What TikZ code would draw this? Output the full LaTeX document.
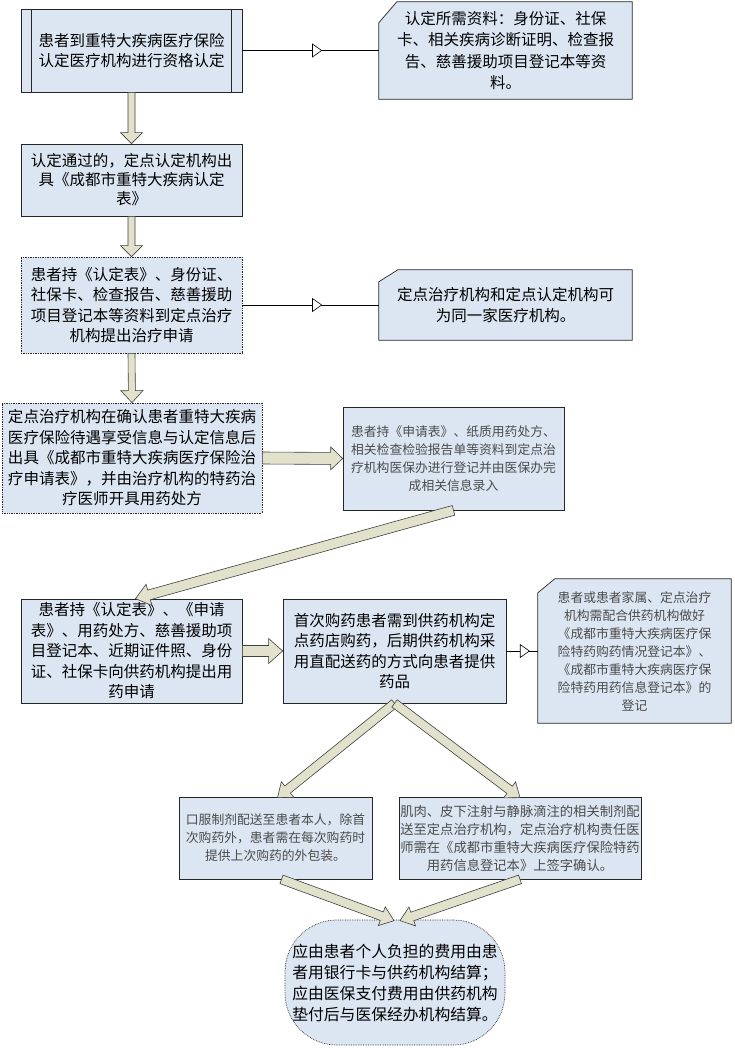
\documentclass[tikz,border=0pt]{standalone}
\usepackage{fontspec}
\newfontfamily\cjk{Noto Sans CJK SC}
\usetikzlibrary{calc,arrows.meta,decorations.markings,backgrounds}

\definecolor{boxfill}{RGB}{220,230,243}
\definecolor{arrfill}{RGB}{226,226,204}
\definecolor{smalltext}{RGB}{75,75,75}

\tikzset{
  box/.style={draw=black!85, line width=0.7pt, fill=boxfill, inner sep=0pt, align=center,
    font=\cjk\fontsize{15.5}{20.5}\selectfont},
  smallbox/.style={box, text=smalltext, font=\cjk\fontsize{12.8}{18}\selectfont},
  notetext/.style={inner sep=0pt, align=center, font=\cjk\fontsize{15.5}{21.5}\selectfont},
  smallnote/.style={notetext, text=smalltext, font=\cjk\fontsize{12.8}{18}\selectfont},
  noteshape/.style={draw=black!85, line width=0.7pt, fill=boxfill},
  dotb/.style={densely dotted},
  barrow/.style={draw=black!75, line width=0.6pt, fill=arrfill, line join=miter},
  thinconn/.style={draw=black, line width=0.6pt},
  tri/.style={postaction={decorate}, decoration={markings,
      mark=at position #1 with {\arrow{Triangle[length=10pt,width=14pt,fill=white]}}}},
}

% block arrow: start, tip, shaft half-width, head half-width, head length
\newcommand{\blockarr}[5]{%
  \coordinate (bac) at ($(#2)!#5!(#1)$);
  \draw[barrow] ($(#1)!#3!90:(#2)$) -- ($(bac)!#3!90:(#2)$) -- ($(bac)!#4!90:(#2)$) -- (#2)
    -- ($(bac)!#4!-90:(#2)$) -- ($(bac)!#3!-90:(#2)$) -- ($(#1)!#3!-90:(#2)$) -- cycle;}

\begin{document}
\begin{tikzpicture}[x=1pt,y=-1pt]
\useasboundingbox (0,0) rectangle (734,1048);

% main column
\node[box, minimum width=221pt, minimum height=83pt] (b1) at (131.5,50.5)
  {患者到重特大疾病医疗保险\\认定医疗机构进行资格认定};
\draw[black!85, line width=0.7pt] ($(b1.north west)+(11,0)$) -- ($(b1.south west)+(11,0)$);
\draw[black!85, line width=0.7pt] ($(b1.north east)+(-11,0)$) -- ($(b1.south east)+(-11,0)$);

\node[box, minimum width=221pt, minimum height=72pt, font=\cjk\fontsize{15.5}{19}\selectfont] (b2) at (131.5,180)
  {认定通过的，定点认定机构出\\具《成都市重特大疾病认定\\表》};

\node[box, dotb, minimum width=221pt, minimum height=96pt] (b3) at (131.5,305)
  {患者持《认定表》、身份证、\\社保卡、检查报告、慈善援助\\项目登记本等资料到定点治疗\\机构提出治疗申请};

\node[box, dotb, minimum width=260pt, minimum height=110pt] (b4) at (132,458)
  {定点治疗机构在确认患者重特大疾病\\医疗保险待遇享受信息与认定信息后\\出具《成都市重特大疾病医疗保险治\\疗申请表》，并由治疗机构的特药治\\疗医师开具用药处方};

\node[smallbox, minimum width=221pt, minimum height=103pt] (b5) at (453.5,458.5)
  {患者持《申请表》、纸质用药处方、\\相关检查检验报告单等资料到定点治\\疗机构医保办进行登记并由医保办完\\成相关信息录入};

\node[box, minimum width=221pt, minimum height=104pt] (b6) at (131.5,651)
  {患者持《认定表》、《申请\\表》、用药处方、慈善援助项\\目登记本、近期证件照、身份\\证、社保卡向供药机构提出用\\药申请};

\node[box, minimum width=223pt, minimum height=104pt] (b7) at (394.5,651)
  {首次购药患者需到供药机构定\\点药店购药，后期供药机构采\\用直配送药的方式向患者提供\\药品};

\node[smallbox, minimum width=193pt, minimum height=82pt] (b8) at (275.5,838)
  {口服制剂配送至患者本人，除首\\次购药外，患者需在每次购药时\\提供上次购药的外包装。};

\node[smallbox, minimum width=242pt, minimum height=82pt, font=\cjk\fontsize{13.3}{18}\selectfont] (b9) at (520,838)
  {肌肉、皮下注射与静脉滴注的相关制剂配\\送至定点治疗机构，定点治疗机构责任医\\师需在《成都市重特大疾病医疗保险特药\\用药信息登记本》上签字确认。};

\node[box, dotb, rounded corners=52pt, minimum width=220pt, minimum height=125pt, font=\cjk\fontsize{15.8}{21}\selectfont] (e) at (395,982.5)
  {应由患者个人负担的费用由患\\者用银行卡与供药机构结算；\\应由医保支付费用由供药机构\\垫付后与医保经办机构结算。};

% note boxes
\node[notetext, minimum width=253pt, minimum height=97pt] (n1) at (505.5,50.5)
  {认定所需资料：身份证、社保\\卡、相关疾病诊断证明、检查报\\告、慈善援助项目登记本等资\\料。};
\node[notetext, minimum width=253pt, minimum height=70pt] (n2) at (505.5,305)
  {定点治疗机构和定点认定机构可\\为同一家医疗机构。};
\node[smallnote, minimum width=193pt, minimum height=144pt] (n3) at (634.5,651)
  {患者或患者家属、定点治疗\\机构需配合供药机构做好\\《成都市重特大疾病医疗保\\险特药购药情况登记本》、\\《成都市重特大疾病医疗保\\险特药用药信息登记本》的\\登记};

\begin{scope}[on background layer]
\fill[white] (0,0) rectangle (734,1048);
\draw[noteshape] (n1.south west) -- ($(n1.north west)+(0,21)$) -- ($(n1.north west)+(18,0)$) -- (n1.north east) -- (n1.south east) -- cycle;
\draw[noteshape] (n2.south west) -- ($(n2.north west)+(0,12)$) -- ($(n2.north west)+(19,0)$) -- (n2.north east) -- (n2.south east) -- cycle;
\draw[noteshape] (n3.south west) -- ($(n3.north west)+(0,14)$) -- ($(n3.north west)+(17,0)$) -- (n3.north east) -- (n3.south east) -- cycle;
\end{scope}

% thin connectors with mid triangles
\draw[thinconn, tri=0.585] (b1.east) -- (n1.west);
\draw[thinconn, tri=0.585] (b3.east) -- (n2.west);
\draw[thinconn, tri=0.75] (b7.east) -- (n3.west);

% block arrows
\blockarr{b1.south}{b2.north}{3.5pt}{11pt}{11pt}
\blockarr{b2.south}{b3.north}{3.5pt}{11pt}{11pt}
\blockarr{b3.south}{b4.north}{3.5pt}{11pt}{12pt}
\blockarr{b4.east}{b5.west}{6pt}{11.5pt}{12pt}
\coordinate (t6) at ($(b6.north)+(4,0)$);
\blockarr{b5.south}{t6}{5pt}{11pt}{14pt}
\blockarr{b6.east}{b7.west}{5.5pt}{12.5pt}{14pt}
\coordinate (t8) at ($(b8.north)+(2,1)$);
\coordinate (t9) at ($(b9.north)+(0,1)$);
\blockarr{b7.south}{t8}{4.5pt}{10pt}{13pt}
\blockarr{b7.south}{t9}{4.5pt}{10pt}{13pt}
\coordinate (s8) at ($(b8.south)+(6,0)$);
\coordinate (el) at ($(e.north)+(-1,1)$);
\coordinate (er) at ($(e.north)+(5,1)$);
\blockarr{s8}{el}{4.5pt}{10pt}{13pt}
\blockarr{b9.south}{er}{4.5pt}{10pt}{13pt}
\end{tikzpicture}
\end{document}
